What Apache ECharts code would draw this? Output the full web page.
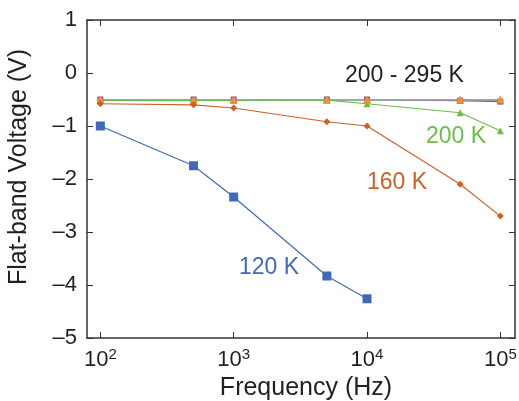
<!DOCTYPE html>
<html>
<head>
<meta charset="utf-8">
<script src="https://cdn.jsdelivr.net/npm/echarts@6/dist/echarts.min.js"></script>
<style>
  html, body { margin: 0; padding: 0; background: #fff; }
  #chart { width: 519px; height: 401px; }
</style>
</head>
<body>
<div id="chart"></div>
<script>
// frequencies in Hz
const freqs = [100, 500, 1000, 5000, 10000, 50000, 100000];
const xTicks = [2, 3, 4, 5];
const v120 = [-1.0, -1.75, -2.34, -3.83, -4.26];
const v160 = [-0.58, -0.6, -0.66, -0.92, -1.0, -2.1, -2.7];
const v200 = [-0.51, -0.51, -0.51, -0.51, -0.58, -0.75, -1.09];
const v220 = [-0.52, -0.52, -0.52, -0.51, -0.51, -0.52, -0.51];
const v240 = [-0.5, -0.5, -0.5, -0.5, -0.5, -0.52, -0.54];
const v260 = [-0.51, -0.51, -0.51, -0.51, -0.51, -0.51, -0.51];
const v295 = [-0.5, -0.5, -0.5, -0.5, -0.5, -0.5, -0.5];

const pts = (vals) => vals.map((v, i) => [Math.log10(freqs[i]), v]);
const font = "'Liberation Sans', Arial, sans-serif";
const ink = "#231f20";

const chart = echarts.init(document.getElementById("chart"));
const mk = (name, vals, color, symbol, size) => ({
  name, type: "line", data: pts(vals), color, symbol, symbolSize: size,
  lineStyle: { width: 1.2 }, itemStyle: { color }, animation: false
});

chart.setOption({
  animation: false,
  grid: { left: 87, right: 4, top: 20, bottom: 63, outerBoundsMode: "none" },
  xAxis: [{
    type: "value", min: 1.9, max: 5.11,
    name: "Frequency (Hz)", nameLocation: "middle", nameGap: 37,
    nameTextStyle: { fontFamily: font, fontSize: 25, color: ink, padding: [0, 0, 0, 10] },
    axisLine: { onZero: false, lineStyle: { color: "#333", width: 1.5 } },
    axisTick: { inside: true, length: 6, customValues: xTicks, lineStyle: { color: "#333" } },
    axisLabel: {
      customValues: xTicks, margin: 9, color: ink,
      formatter: (v) => "{b|10}{s|" + Math.round(v) + "}",
      rich: {
        b: { fontFamily: font, fontSize: 22, color: ink },
        s: { fontFamily: font, fontSize: 15, color: ink, verticalAlign: "top", padding: [0, 0, 10, 0] }
      }
    },
    splitLine: { show: false }
  }, {
    type: "value", min: 1.9, max: 5.11, position: "top",
    axisLine: { show: true, onZero: false, lineStyle: { color: "#333", width: 1.5 } },
    axisTick: { inside: true, length: 6, customValues: xTicks, lineStyle: { color: "#333" } },
    axisLabel: { show: false }, splitLine: { show: false }
  }],
  yAxis: [{
    type: "value", min: -5, max: 1, interval: 1,
    name: "Flat-band Voltage (V)", nameLocation: "middle", nameGap: 55,
    nameTextStyle: { fontFamily: font, fontSize: 25, color: ink, padding: [0, 0, 0, 24] },
    axisLine: { show: true, onZero: false, lineStyle: { color: "#333", width: 1.5 } },
    axisTick: { inside: true, length: 6, lineStyle: { color: "#333" } },
    axisLabel: {
      fontFamily: font, fontSize: 22, color: ink, margin: 10,
      formatter: (v) => (v < 0 ? "\u2013" + Math.abs(v) : String(v))
    },
    splitLine: { show: false }
  }, {
    type: "value", min: -5, max: 1, interval: 1, position: "right",
    axisLine: { show: true, onZero: false, lineStyle: { color: "#333", width: 1.5 } },
    axisTick: { inside: true, length: 6, lineStyle: { color: "#333" } },
    axisLabel: { show: false }, splitLine: { show: false }
  }],
  series: [
    mk("220 K", v220, "#5bc8e0", "triangle", 7),
    mk("240 K", v240, "#8a4fa8", "rect", 6),
    mk("260 K", v260, "#a0a0a0", "circle", 5),
    mk("200 K", v200, "#6cbd45", "triangle", 7),
    mk("295 K", v295, "#f0922e", "triangle", 8),
    mk("160 K", v160, "#cc6128", "diamond", 7),
    mk("120 K", v120, "#4169b8", "rect", 9)
  ],
  graphic: [
    { type: "text", left: 345, top: 64, style: { text: "200 - 295 K", fontFamily: font, fontSize: 23, fill: ink } },
    { type: "text", left: 426, top: 125, style: { text: "200 K", fontFamily: font, fontSize: 23, fill: "#6cbd45" } },
    { type: "text", left: 367, top: 171, style: { text: "160 K", fontFamily: font, fontSize: 23, fill: "#cc6128" } },
    { type: "text", left: 239, top: 256, style: { text: "120 K", fontFamily: font, fontSize: 23, fill: "#4169b8" } }
  ]
});
</script>
</body>
</html>
